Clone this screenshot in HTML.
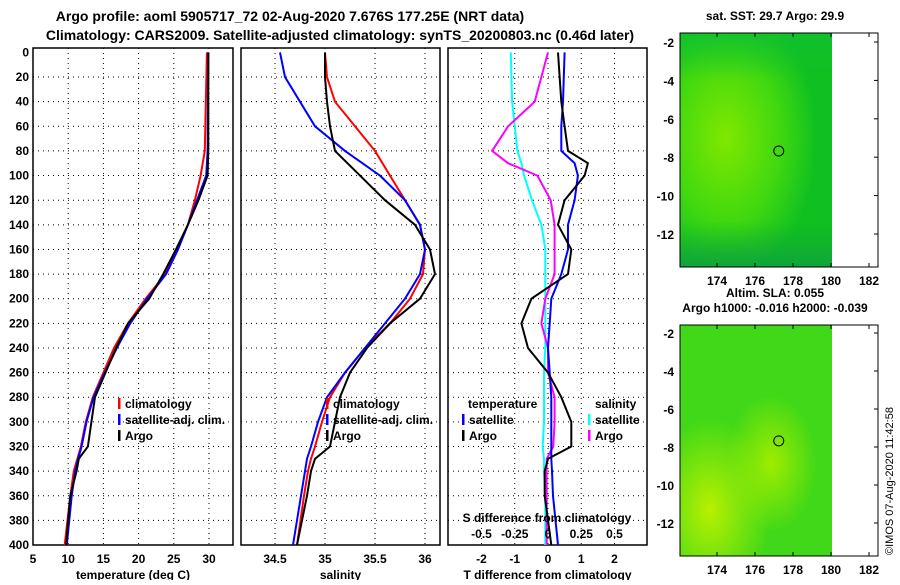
<!DOCTYPE html>
<html><head><meta charset="utf-8"><style>
body{margin:0;background:#fff;}
svg text{font-family:"Liberation Sans",sans-serif;font-weight:bold;fill:#000;}
</style></head><body>
<svg id="c" width="900" height="580" viewBox="0 0 900 580">
<defs>
<radialGradient id="g1" cx="0.3" cy="0.45" r="0.6"><stop offset="0" stop-color="#80e800"/><stop offset="0.6" stop-color="#40d810"/><stop offset="1" stop-color="#10c020"/></radialGradient>
<linearGradient id="g1b" x1="0" y1="0" x2="0" y2="1"><stop offset="0" stop-color="#10c030" stop-opacity="0.8"/><stop offset="0.2" stop-color="#10c030" stop-opacity="0"/><stop offset="0.8" stop-color="#10b030" stop-opacity="0"/><stop offset="1" stop-color="#10a040" stop-opacity="0.9"/></linearGradient>
<radialGradient id="g2" cx="0.2" cy="0.8" r="0.4"><stop offset="0" stop-color="#b8f000"/><stop offset="1" stop-color="#b8f000" stop-opacity="0"/></radialGradient>
<radialGradient id="g3" cx="0.6" cy="0.6" r="0.3"><stop offset="0" stop-color="#a0ec00"/><stop offset="1" stop-color="#a0ec00" stop-opacity="0"/></radialGradient>
</defs>
<text x="290" y="21" font-size="14" text-anchor="middle">Argo profile: aoml 5905717_72 02-Aug-2020 7.676S 177.25E (NRT data)</text>
<text x="340" y="40" font-size="14" text-anchor="middle">Climatology: CARS2009. Satellite-adjusted climatology: synTS_20200803.nc (0.46d later)</text>
<g id="p"></g>
<text x="886" y="548" font-size="11" transform="rotate(-90 893 548)" style="font-weight:normal">©IMOS 07-Aug-2020 11:42:58</text>
</svg>
<script>
const depthTicks=[0,20,40,60,80,100,120,140,160,180,200,220,240,260,280,300,320,340,360,380,400];
const tempTicks=[5,10,15,20,25,30];
const salTicks=[34.5,35,35.5,36];
const tdTicks=[-2,-1,0,1,2];
const sdTicks=[-0.5,-0.25,0,0.25,0.5];
const tDepth=[0,80,100,120,140,160,180,200,220,240,260,280,300,320,330,340,360,400];
const tClim=[29.7,29.4,28.8,28.0,27.0,25.5,23.8,21.0,18.5,16.5,15.0,13.5,12.5,11.8,11.3,10.8,10.3,9.5];
const tSat=[29.9,29.8,29.6,28.3,27.0,25.6,23.9,21.2,18.8,16.9,15.2,13.6,12.6,11.9,11.4,11.0,10.5,9.8];
const tArgo=[29.9,29.9,29.8,28.5,27.0,25.3,23.5,21.5,18.5,16.8,15.3,13.8,13.3,12.8,11.5,11.2,10.3,9.7];
const sDepth=[0,20,40,60,80,100,120,140,160,180,200,220,240,260,280,300,320,330,340,360,400];
const sClim=[35.0,35.02,35.1,35.3,35.5,35.65,35.8,35.95,36.0,35.98,35.85,35.65,35.4,35.2,35.05,34.97,34.9,34.86,34.83,34.79,34.72];
const sSat=[34.55,34.6,34.75,34.9,35.2,35.55,35.8,35.95,36.0,35.95,35.8,35.6,35.4,35.2,35.02,34.93,34.86,34.82,34.8,34.76,34.68];
const sArgo=[35.0,35.0,35.02,35.05,35.1,35.35,35.6,35.9,36.05,36.1,35.95,35.65,35.42,35.25,35.15,35.1,35.05,34.9,34.86,34.82,34.72];
const dDepth=[0,40,60,80,90,100,120,140,160,180,200,220,240,260,280,300,320,330,340,360,400];
const dTArgo=[0.3,0.4,0.5,0.6,1.2,1.1,0.5,0.3,0.7,0.6,-0.5,-0.8,-0.6,0.0,0.4,0.7,0.7,0.0,-0.1,-0.1,0.1];
const dTSat=[0.5,0.45,0.4,0.4,0.8,0.9,0.8,0.6,0.6,0.4,0.1,0.05,0.0,0.05,0.1,0.1,0.1,0.1,0.12,0.15,0.3];
const dSSat=[-0.28,-0.27,-0.25,-0.23,-0.2,-0.18,-0.12,-0.05,-0.02,-0.02,-0.02,-0.02,-0.02,-0.03,-0.03,-0.03,-0.04,-0.03,-0.03,-0.02,-0.02];
const dSArgo=[0.0,-0.1,-0.3,-0.42,-0.3,-0.08,0.02,0.05,0.05,0.05,-0.02,-0.05,0.0,0.0,0.05,0.05,0.04,-0.01,-0.01,-0.01,-0.01];
const lonTicks=[174,176,178,180,182];
const latTicks=[-2,-4,-6,-8,-10,-12];

const NS='http://www.w3.org/2000/svg',G=document.getElementById('p');
function mk(t,a,par){const e=document.createElementNS(NS,t);for(const k in a)e.setAttribute(k,a[k]);(par||G).appendChild(e);return e;}
const pTop=48,pBot=545;
const yD=d=>52.4+d*1.2316;
function txt(x,y,s,anchor,size,name){const e=mk('text',{x:x,y:y,'font-size':size||12,'text-anchor':anchor||'middle'});e.textContent=s;


return e;}
function panel(x0,x1,xs,ticks,name,label){
  const g=mk('g',{});
  
  
  mk('rect',{x:x0,y:pTop,width:x1-x0,height:pBot-pTop,fill:'#fff',stroke:'#000','stroke-width':1.5},g);
  depthTicks.forEach(d=>{if(d>0&&d<400)mk('line',{x1:x0,x2:x1,y1:yD(d),y2:yD(d),stroke:'#000','stroke-dasharray':'1,4'},g);});
  ticks.forEach(v=>{const X=xs(v);if(X>x0+2&&X<x1-2)mk('line',{x1:X,x2:X,y1:pTop,y2:pBot,stroke:'#000','stroke-dasharray':'1,4'},g);
    txt(X,563,String(v),'middle',12,'x-tick-label');});
  txt((x0+x1)/2,579,label,'middle',12,'x-axis-title');
  return g;
}
function line(xs,dep,vals,col,name,w){const pts=dep.map((d,i)=>xs(vals[i]).toFixed(1)+','+yD(d).toFixed(1)).join(' ');
  const e=mk('polyline',{points:pts,fill:'none',stroke:col,'stroke-width':w||2});
  
  }
depthTicks.forEach(d=>txt(29,yD(d)+4,String(d),'end',12,'depth-tick-label'));
const xT=v=>33+(v-5)*7.04;
panel(33,233,xT,tempTicks,'temperature-panel','temperature (deg C)');
line(xT,tDepth,tClim,'#f00','temp-climatology-line');
line(xT,tDepth,tSat,'#00f','temp-satellite-line');
line(xT,tDepth,tArgo,'#000','temp-argo-line');
const xS=v=>275+(v-34.5)*100;
panel(241,440,xS,salTicks,'salinity-panel','salinity');
line(xS,sDepth,sClim,'#f00','sal-climatology-line');
line(xS,sDepth,sSat,'#00f','sal-satellite-line');
line(xS,sDepth,sArgo,'#000','sal-argo-line');
const xDT=v=>548+v*33.25, xDS=v=>548+v*133;
panel(448,647,xDT,tdTicks,'difference-panel','T difference from climatology');
line(xDS,dDepth,dSSat,'#0ff','sdiff-satellite-line');
line(xDS,dDepth,dSArgo,'#f0f','sdiff-argo-line');
line(xDT,dDepth,dTSat,'#00f','tdiff-satellite-line');
line(xDT,dDepth,dTArgo,'#000','tdiff-argo-line');
txt(547,522,'S difference from climatology','middle',12,'sdiff-axis-title');
sdTicks.forEach(v=>txt(xDS(v),538,String(v),'middle',12,'sdiff-tick-label'));
function leg(x,y,col,s){mk('rect',{x:x,y:y-10,width:2.5,height:11,fill:col});txt(x+7,y,s,'start',12,'legend-entry');}
leg(118,408,'#f00','climatology');leg(118,424,'#00f','satellite-adj. clim.');leg(118,440,'#000','Argo');
leg(326,408,'#f00','climatology');leg(326,424,'#00f','satellite-adj. clim.');leg(326,440,'#000','Argo');
txt(468,408,'temperature','start',12,'legend-header');txt(595,408,'salinity','start',12,'legend-header');
leg(462,424,'#00f','satellite');leg(462,440,'#000','Argo');leg(588,424,'#0ff','satellite');leg(588,440,'#f0f','Argo');
function map(y0,y1,lat2,lat12,title,fills,name,ttl2){
  const g=mk('g',{});
  
  
  const lx=v=>717+(v-174)*19, ly=v=>lat2+(v+2)*(lat12-lat2)/-10;
  fills.forEach(f=>mk('rect',{x:680,y:y0,width:152,height:y1-y0,fill:f},g));
  mk('rect',{x:680,y:y0,width:198,height:y1-y0,fill:'none',stroke:'#000','stroke-width':1},g);
  lonTicks.forEach(v=>{mk('line',{x1:lx(v),x2:lx(v),y1:y0,y2:y0+4,stroke:'#000'},g);mk('line',{x1:lx(v),x2:lx(v),y1:y1,y2:y1-4,stroke:'#000'},g);
    txt(lx(v),y1+18,String(v),'middle',12,'lon-tick-label');});
  latTicks.forEach(v=>{mk('line',{x1:874,x2:878,y1:ly(v),y2:ly(v),stroke:'#000'},g);txt(674,ly(v)+5,String(v),'end',12,'lat-tick-label');});
  mk('circle',{cx:lx(177.25),cy:ly(-7.676),r:5,fill:'none',stroke:'#000'},g);
  txt(775,y0-13,title,'middle',12,'map-title');
  if(ttl2)txt(775,y0-28,ttl2,'middle',12,'map-title');
}
map(33,267,42,234,'sat. SST: 29.7 Argo: 29.9',['url(#g1)','url(#g1b)'],'sst-map');
map(325,556,333,523,'Argo h1000: -0.016 h2000: -0.039',['#40d818','url(#g2)','url(#g3)'],'sla-map','Altim. SLA: 0.055');
</script>
</body></html>
